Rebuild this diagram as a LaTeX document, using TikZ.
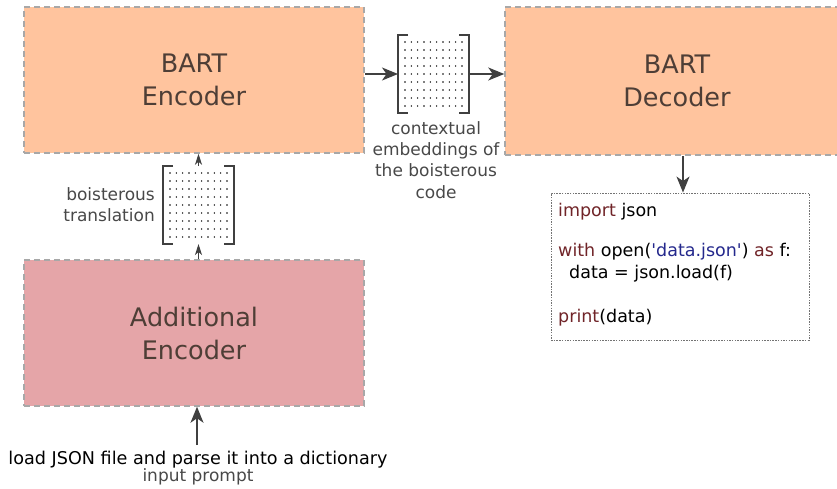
\documentclass[tikz,border=0pt]{standalone}
\usepackage{fontspec}
\setmainfont{DejaVu Sans}
\usetikzlibrary{arrows.meta}
\definecolor{peach}{RGB}{255,196,158}
\definecolor{rose}{RGB}{229,165,168}
\definecolor{boxline}{RGB}{168,168,168}
\definecolor{boxtext}{RGB}{78,62,54}
\definecolor{labeltext}{RGB}{72,72,72}
\definecolor{kw}{RGB}{112,36,40}
\definecolor{str}{RGB}{36,40,140}
\definecolor{arrowc}{RGB}{64,64,64}
\tikzset{
  model/.style={draw=boxline, line width=1.5pt, dash pattern=on 6pt off 4pt,
    inner sep=0pt, text=boxtext, align=center,
    font=\fontsize{25.5}{33}\selectfont},
  bigarrow/.style={draw=arrowc, line width=1.3pt,
    -{Stealth[length=16pt, width=13pt, inset=4.5pt]}},
  smallarrow/.style={draw=arrowc, line width=1pt,
    -{Stealth[length=11pt, width=7pt, inset=3pt]}},
  bracketline/.style={draw=black!75, line width=1.3pt},
  lbl/.style={text=labeltext, font=\fontsize{17}{21.3}\selectfont, align=center, inner sep=0pt},
  codeline/.style={anchor=base west, inner sep=0pt, font=\fontsize{17.5}{22}\selectfont},
}
\newcommand{\sq}{\textquotesingle}
% dotted matrix between two square brackets
\newcommand{\embmatrix}[5]{% name, x0, y0, x1, y1
  \coordinate (#1-nw) at (#2,#3);
  \coordinate (#1-se) at (#4,#5);
  \coordinate (#1) at ({(#2+#4)/2},{(#3+#5)/2});
  \draw[bracketline] (#2+10,#3) -- (#2,#3) -- (#2,#5) -- (#2+10,#5);
  \draw[bracketline] (#4-10,#3) -- (#4,#3) -- (#4,#5) -- (#4-10,#5);
  \foreach \i in {0,...,9}{
    \foreach \j in {0,...,8}{
      \fill[black] ({#2+7+\i*((#4-#2-14)/9)},{#3+7+\j*((#5-#3-14)/8)}) circle (0.8pt);
    }
  }
}
\begin{document}
\begin{tikzpicture}[x=1pt, y=-1pt]
\useasboundingbox (0,0) rectangle (837,488);

% model blocks (the decoder runs past the right edge)
\node[model, fill=peach, minimum width=340pt, minimum height=146pt] (enc) at (194,80) {BART\\Encoder};
\node[model, fill=peach, minimum width=344pt, minimum height=148pt] (dec) at (677,81) {BART\\Decoder};
\node[model, fill=rose, minimum width=340pt, minimum height=146pt] (add) at (194,333) {Additional\\Encoder};

% embedding matrices
\embmatrix{emb}{398}{35}{469}{113}
\embmatrix{tr}{163}{166}{234}{244}

% arrows along the top row
\draw[bigarrow] (enc.east |- emb) -- (emb-nw |- emb);
\draw[bigarrow] (emb-se |- emb) -- (dec.west |- emb);

% arrows up the left column
\draw[smallarrow] (tr |- add.north) -- (tr |- tr-se);
\draw[smallarrow] (tr |- tr-nw) -- (tr |- enc.south);

% labels
\node[lbl, anchor=north] (embl) at (436,121) {contextual\\embeddings of\\the boisterous\\code};
\node[lbl, anchor=east, align=right] (trl) at (155,205) {boisterous\\translation};

% generated code
\node[draw=black!55, line width=0.9pt, dash pattern=on 1.5pt off 1.2pt, minimum width=258pt, minimum height=147pt, inner sep=0pt] (code) at (680,266.5) {};
\coordinate (cin) at (683,0);
\draw[bigarrow] (cin |- dec.south) -- (cin |- code.north);
\node[codeline] (c1) at (558,216) {\textcolor{kw}{import} json};
\node[codeline] (c2) at (558,256) {\textcolor{kw}{with} open(\textcolor{str}{\sq data.json\sq}) \textcolor{kw}{as} f:};
\node[codeline] (c3) at (569,278) {data = json.load(f)};
\node[codeline] (c4) at (558,322) {\textcolor{kw}{print}(data)};

% input prompt
\node[inner sep=0pt, anchor=base, font=\fontsize{17.6}{21}\selectfont] (prompt) at (198,464) {load JSON file and parse it into a dictionary};
\node[inner sep=0pt, anchor=base, text=labeltext, font=\fontsize{17}{21}\selectfont] (promptl) at (198,481) {input prompt};
\coordinate (pin) at (197,445);
\draw[bigarrow] (pin) -- (pin |- add.south);
\end{tikzpicture}
\end{document}
